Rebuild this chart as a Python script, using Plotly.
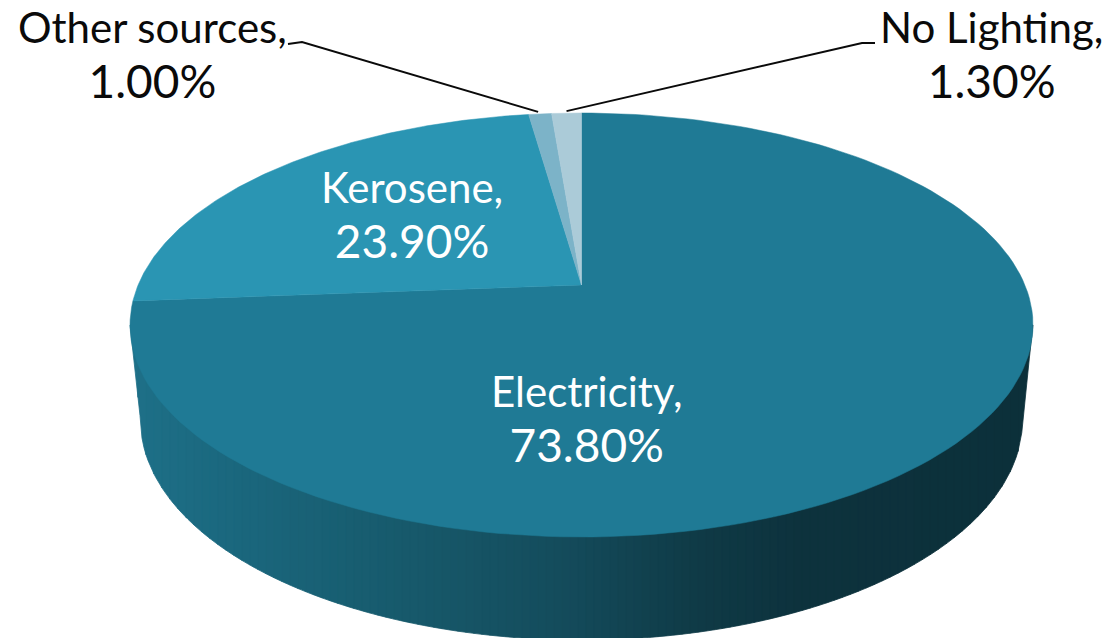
import numpy as np
import plotly.graph_objects as go

# ---- data
categories = ["Electricity", "Kerosene", "Other sources", "No Lighting"]
shares = [73.8, 23.9, 1.0, 1.3]
value_labels = ["73.80%", "23.90%", "1.00%", "1.30%"]
slice_colors = ["#1f7a95", "#2a95b3", "#7cb3c8", "#abcbd8"]

# ---- drawing geometry (tilted, perspective disc)
CX, CY, RX, RY = 581.5, 325.0, 451.5, 212.0   # top face ellipse
AX, AY = 581.5, 285.0                         # apex where slices meet
BX, BY, BRX, BRY = 581.5, 420.0, 441.0, 220.0 # bottom rim ellipse
W, H = 1110, 638

# side wall shading: stops of x position and colour
wall_x = [130, 250, 400, 560, 700, 800, 1033]
wall_rgb = [(30, 112, 136), (26, 102, 124), (23, 90, 108), (20, 76, 92),
            (15, 58, 70), (13, 50, 61), (12, 48, 58)]

FONT = "Lato"
NAME_SIZE = 42
VALUE_SIZE = 46


def rim_point(theta):
    """Where the ray from the apex at angle theta (clockwise from top) meets the ellipse."""
    dx, dy = np.sin(theta) * RX, -np.cos(theta) * RY
    ox, oy = (AX - CX) / RX, (AY - CY) / RY
    ux, uy = dx / RX, dy / RY
    a = ux * ux + uy * uy
    b = 2 * (ox * ux + oy * uy)
    c = ox * ox + oy * oy - 1
    t = (-b + np.sqrt(b * b - 4 * a * c)) / (2 * a)
    return AX + t * dx, AY + t * dy


def lower_edge(x):
    if abs(x - BX) < BRX:
        return BY + BRY * np.sqrt(1 - ((x - BX) / BRX) ** 2)
    # straight piece between the widest point of the top face and the bottom rim
    xl = BX - BRX if x < BX else BX + BRX
    xt = CX - RX if x < BX else CX + RX
    f = (x - xt) / (xl - xt)
    return CY + f * (BY - CY)


fig = go.Figure()

# side wall strips
edges = np.arange(130, 1034, 8.0)
edges[-1] = 1033
for x0, x1 in zip(edges[:-1], edges[1:]):
    xm = (x0 + x1) / 2
    rgb = [np.interp(xm, wall_x, [c[i] for c in wall_rgb]) for i in range(3)]
    col = f"rgb({rgb[0]:.0f},{rgb[1]:.0f},{rgb[2]:.0f})"
    xs = np.linspace(x0, x1, 5)
    ys = [lower_edge(v) for v in xs]
    fig.add_trace(go.Scatter(
        x=[x0] + list(xs) + [x1, x0], y=[CY] + ys + [CY, CY],
        mode="lines", fill="toself", fillcolor=col,
        line=dict(color=col, width=0.8), hoverinfo="skip", showlegend=False))

# top face slices
fractions = np.cumsum([0] + shares) / sum(shares)
for i, name in enumerate(categories):
    th = np.linspace(fractions[i], fractions[i + 1], 160) * 2 * np.pi
    pts = [rim_point(t) for t in th]
    xs = [AX] + [p[0] for p in pts] + [AX]
    ys = [AY] + [p[1] for p in pts] + [AY]
    fig.add_trace(go.Scatter(
        x=xs, y=ys, mode="lines", fill="toself", fillcolor=slice_colors[i],
        line=dict(color=slice_colors[i], width=0.5), name=name,
        hoverinfo="name", showlegend=False))

# leader lines for the two small slices
mid_other = rim_point((fractions[2] + fractions[3]) * np.pi)
mid_none = rim_point((fractions[3] + fractions[4]) * np.pi)
fig.add_trace(go.Scatter(x=[288, 302, mid_other[0] - 2], y=[44, 42, mid_other[1] - 2], mode="lines",
                         line=dict(color="#0a0a0a", width=2), hoverinfo="skip", showlegend=False))
fig.add_trace(go.Scatter(x=[875, 862, mid_none[0]], y=[43, 43, mid_none[1] - 2], mode="lines",
                         line=dict(color="#0a0a0a", width=2), hoverinfo="skip", showlegend=False))

# labels
label_pos = [(586, 419), (412, 215), (152, 55), (991, 55)]
label_col = ["white", "white", "#0a0a0a", "#0a0a0a"]
for name, val, (lx, ly), col in zip(categories, value_labels, label_pos, label_col):
    fig.add_annotation(x=lx, y=ly,
                       text=f"{name},<br><span style=\"font-size:{VALUE_SIZE}px\">{val}</span>",
                       showarrow=False, xanchor="center", yanchor="middle", align="center",
                       font=dict(family=FONT, size=NAME_SIZE, color=col))

fig.update_layout(
    width=W, height=H, margin=dict(l=0, r=0, t=0, b=0),
    paper_bgcolor="white", plot_bgcolor="white", showlegend=False,
    xaxis=dict(range=[0, W], visible=False, fixedrange=True),
    yaxis=dict(range=[H, 0], visible=False, fixedrange=True),
)
fig.write_html("out.html", config={"displayModeBar": False},
               post_script="document.body.style.margin='0';document.body.style.overflow='hidden';")
